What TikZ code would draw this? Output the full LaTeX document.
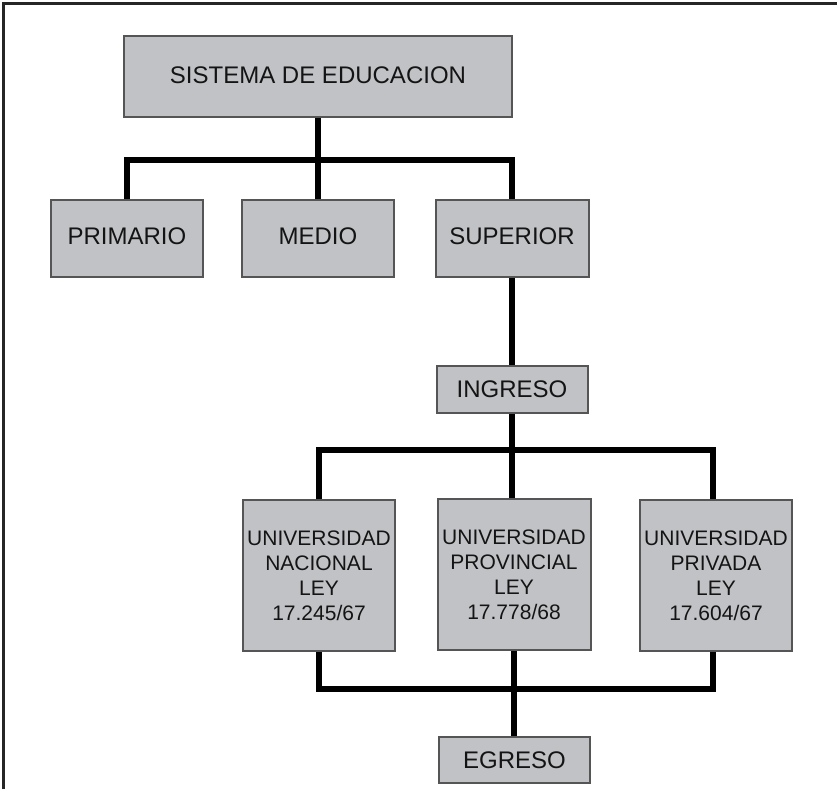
\documentclass[tikz,border=0pt]{standalone}
\usepackage{fontspec}
\setmainfont{Liberation Sans}
\definecolor{boxfill}{RGB}{193,194,197}
\definecolor{boxline}{RGB}{85,85,85}
\definecolor{txt}{RGB}{20,20,20}
\begin{document}
\begin{tikzpicture}[x=1pt,y=-1pt,
  box/.style={rectangle,draw=boxline,fill=boxfill,line width=2pt,inner sep=0pt,
    text=txt,font=\fontsize{24}{26}\selectfont},
  unibox/.style={box,minimum width=152pt,minimum height=151pt,align=center,
    font=\fontsize{21}{25}\selectfont},
  conn/.style={line width=6pt,black,line join=miter},
  frameline/.style={line width=2.2pt,black!85}]
\useasboundingbox (0,0) rectangle (837,789);
% outer frame (top and left edges)
\coordinate (fa) at (3.5,789);
\coordinate (fb) at (3.5,3.5);
\coordinate (fc) at (837,3.5);
\draw[frameline] (fa) -- (fb) -- (fc);
% bus coordinates
\coordinate (b1) at (318,160);
\coordinate (b2) at (513,450);
\coordinate (b3) at (513,689);
% nodes
\node[box,minimum width=388pt,minimum height=81pt] (sis) at (318,76.5) {\raisebox{3.5pt}{SISTEMA DE EDUCACION}};
\node[box,minimum width=152pt,minimum height=77pt] (pri) at (127,238.5) {\raisebox{5pt}{PRIMARIO}};
\node[box,minimum width=152pt,minimum height=77pt] (med) at (318,238.5) {\raisebox{5pt}{MEDIO}};
\node[box,minimum width=153pt,minimum height=77pt] (sup) at (512,238.5) {\raisebox{5pt}{SUPERIOR}};
\node[box,minimum width=151pt,minimum height=47pt] (ing) at (512,389.5) {INGRESO};
\node[unibox] (nac) at (319,575.5) {UNIVERSIDAD\\NACIONAL\\LEY\\17.245/67};
\node[unibox,minimum width=153pt] (pro) at (514,574.5) {UNIVERSIDAD\\PROVINCIAL\\LEY\\17.778/68};
\node[unibox] (pri2) at (716,575.5) {UNIVERSIDAD\\PRIVADA\\LEY\\17.604/67};
\node[box,minimum width=151pt,minimum height=46pt] (egr) at (514.5,760) {EGRESO};
% connectors
\draw[conn] (sis.south) -- (med.north);
\draw[conn] (pri.north) |- (b1) -| (sup.north);
\draw[conn] (sup.south) -- (sup.south |- ing.north);
\draw[conn] (ing.south) -- (ing.south |- pro.north);
\draw[conn] (nac.north) |- (b2) -| ([xshift=-3pt]pri2.north);
\draw[conn] (nac.south) |- (b3) -| ([xshift=-3pt]pri2.south);
\draw[conn] (pro.south) -- (pro.south |- egr.north);
\end{tikzpicture}
\end{document}
